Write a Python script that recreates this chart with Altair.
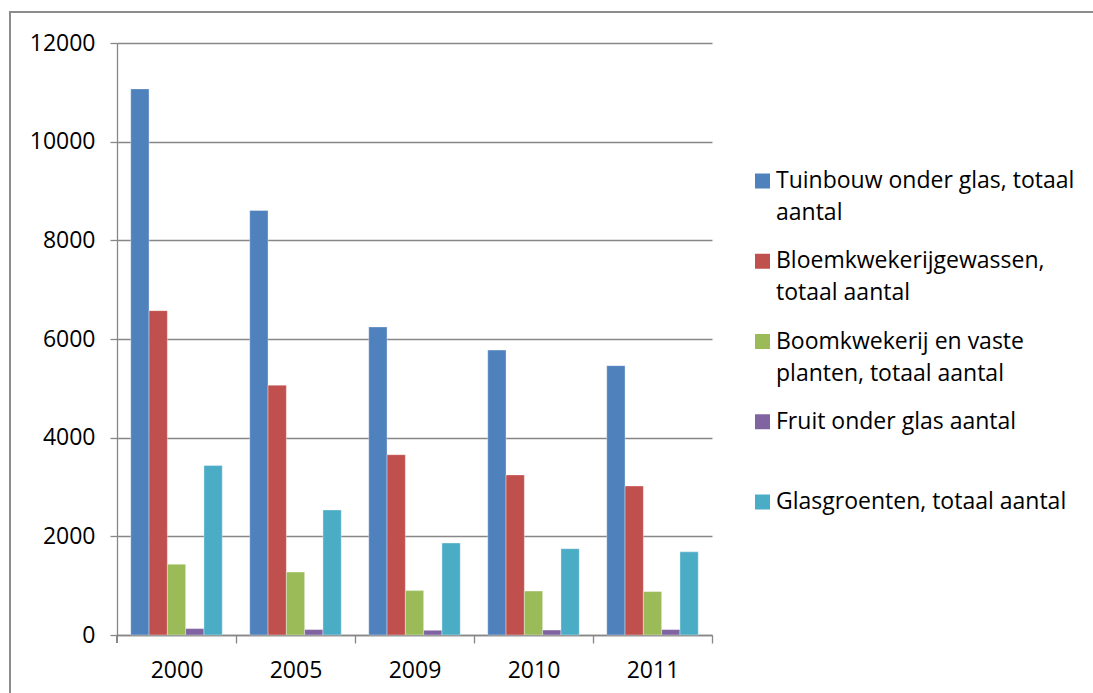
import altair as alt
import pandas as pd

years = ["2000", "2005", "2009", "2010", "2011"]
series = [
    "Tuinbouw onder glas, totaal aantal",
    "Bloemkwekerijgewassen, totaal aantal",
    "Boomkwekerij en vaste planten, totaal aantal",
    "Fruit onder glas aantal",
    "Glasgroenten, totaal aantal",
]
legend_text = [
    "Tuinbouw onder glas, totaal\naantal",
    "Bloemkwekerijgewassen,\ntotaal aantal",
    "Boomkwekerij en vaste\nplanten, totaal aantal",
    "Fruit onder glas aantal",
    "Glasgroenten, totaal aantal",
]
tuinbouw = [11070, 8605, 6245, 5775, 5460]
bloem = [6575, 5065, 3655, 3245, 3020]
boom = [1435, 1275, 900, 890, 880]
fruit = [130, 110, 95, 100, 110]
glas = [3435, 2535, 1865, 1750, 1685]
colors = ["#4F81BD", "#C0504D", "#9BBB59", "#8064A2", "#4BACC6"]
y_ticks = [0, 2000, 4000, 6000, 8000, 10000, 12000]

values = [tuinbouw, bloem, boom, fruit, glas]
rows = []
for s, vals in zip(series, values):
    for yr, v in zip(years, vals):
        rows.append({"jaar": yr, "reeks": s, "aantal": v})
df = pd.DataFrame(rows)
legend_df = pd.DataFrame({"reeks": series, "label": legend_text})

FONT = "Open Sans"
GRAY = "#878787"
W, H = 595, 592
PAD_IN, PAD_OUT = 0.231, 0.1155
STEP = W / len(years)
HALF_GAP = PAD_OUT * STEP

color_enc = alt.Color(
    "reeks:N",
    sort=series,
    scale=alt.Scale(domain=series, range=colors),
    legend=None,
)

bars = alt.Chart(df).mark_bar(stroke="white", strokeOpacity=0.35, strokeWidth=1).encode(
    x=alt.X(
        "jaar:N",
        sort=years,
        scale=alt.Scale(paddingInner=PAD_IN, paddingOuter=PAD_OUT),
        axis=alt.Axis(
            title=None,
            labelAngle=0,
            bandPosition=1,
            tickOffset=HALF_GAP,
            labelOffset=-HALF_GAP,
            tickSize=8,
            tickColor=GRAY,
            tickWidth=1.3,
            domainColor=GRAY,
            domainWidth=1.3,
            labelPadding=16,
            labelFont=FONT,
            labelFontSize=23,
            labelColor="black",
            grid=False,
        ),
    ),
    xOffset=alt.XOffset("reeks:N", sort=series),
    y=alt.Y(
        "aantal:Q",
        scale=alt.Scale(domain=[0, 12000], nice=False),
        axis=alt.Axis(
            title=None,
            values=y_ticks,
            format="d",
            grid=True,
            gridColor=GRAY,
            gridWidth=1.3,
            domainColor=GRAY,
            domainWidth=1.3,
            tickColor=GRAY,
            tickWidth=1.3,
            tickSize=7,
            labelPadding=15,
            labelFont=FONT,
            labelFontSize=23,
            labelColor="black",
        ),
    ),
    color=color_enc,
)

# first category-boundary tick on the x axis (left end)
left_tick = alt.Chart(legend_df).mark_rule(color=GRAY, strokeWidth=1.3).encode(
    x=alt.value(0), y=alt.value(H), y2=alt.value(H + 8)
)

frame = alt.Chart(legend_df).mark_rect(fill="transparent", stroke="#8c8c8c", strokeWidth=1.3).encode(
    x=alt.value(-107), x2=alt.value(1000), y=alt.value(-31), y2=alt.value(680)
)

legend_y = alt.Y(
    "reeks:N",
    sort=series,
    scale=alt.Scale(type="point", range=[138, 459], padding=0),
    axis=None,
)

legend_sq = alt.Chart(legend_df).mark_square(size=225, opacity=1).encode(
    x=alt.value(645.5), y=legend_y, color=color_enc
)

legend_txt = alt.Chart(legend_df).mark_text(
    align="left",
    baseline="middle",
    lineBreak="\n",
    lineHeight=32,
    font=FONT,
    fontSize=23,
    color="black",
).encode(x=alt.value(659), y=legend_y, text="label:N")

chart = alt.layer(frame, bars, left_tick, legend_sq, legend_txt).resolve_scale(
    y="independent"
).properties(
    width=W,
    height=H,
    autosize=alt.AutoSizeParams(type="none"),
    padding={"left": 117, "top": 43, "right": 381, "bottom": 58},
    background="white",
).configure_view(strokeWidth=0)

chart.save("out.html", embed_options={"renderer": "svg", "actions": False})
